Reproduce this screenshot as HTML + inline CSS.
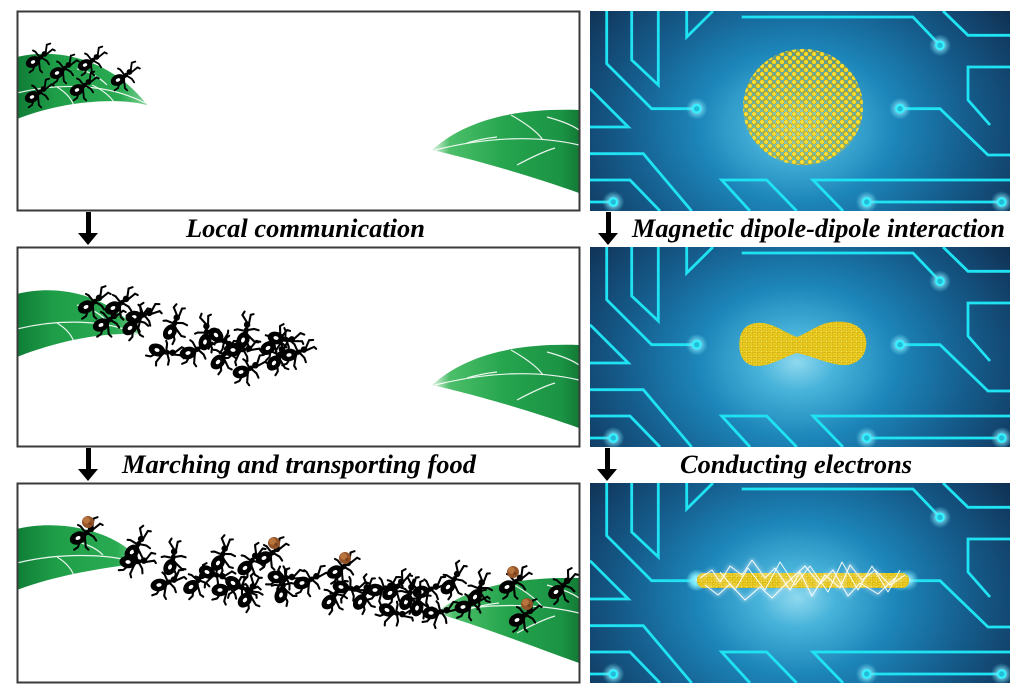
<!DOCTYPE html>
<html><head><meta charset="utf-8"><style>
html,body{margin:0;padding:0;background:#fff;}
svg{display:block;}
text{font-family:"Liberation Serif",serif;font-weight:bold;font-style:italic;font-size:26px;fill:#000;}
</style></head><body>
<svg xmlns="http://www.w3.org/2000/svg" width="1024" height="698" viewBox="0 0 1024 698">
<defs>
  <radialGradient id="bg" cx="207" cy="115" r="210" gradientUnits="userSpaceOnUse" gradientTransform="translate(207,115) scale(1.3,1) translate(-207,-115)">
    <stop offset="0" stop-color="#8fd9ef"/>
    <stop offset="0.14" stop-color="#48b3da"/>
    <stop offset="0.36" stop-color="#1d86ba"/>
    <stop offset="0.62" stop-color="#155e8e"/>
    <stop offset="0.85" stop-color="#123f67"/>
    <stop offset="1" stop-color="#0e2946"/>
  </radialGradient>
  <radialGradient id="halo">
    <stop offset="0" stop-color="#c8faff" stop-opacity="1"/>
    <stop offset="0.5" stop-color="#86e8f8" stop-opacity="0.6"/>
    <stop offset="1" stop-color="#5fd6ef" stop-opacity="0"/>
  </radialGradient>
  <linearGradient id="leafL" x1="0" y1="0" x2="1" y2="0">
    <stop offset="0" stop-color="#0f7d36"/>
    <stop offset="0.3" stop-color="#1f9e48"/>
    <stop offset="0.8" stop-color="#2aab52"/>
    <stop offset="1" stop-color="#7fd294"/>
  </linearGradient>
  <linearGradient id="leafR" x1="0" y1="0" x2="1" y2="0">
    <stop offset="0" stop-color="#e0f4e4"/>
    <stop offset="0.12" stop-color="#4cbf6a"/>
    <stop offset="0.5" stop-color="#25a44d"/>
    <stop offset="0.88" stop-color="#1b9344"/>
    <stop offset="1" stop-color="#127a36"/>
  </linearGradient>
  <pattern id="dots" width="8" height="8" patternUnits="userSpaceOnUse">
    <circle cx="2" cy="2" r="2.3" fill="#f9e13a" stroke="#c39b00" stroke-width="0.6"/>
    <circle cx="6" cy="6" r="2.3" fill="#f6dc30" stroke="#c39b00" stroke-width="0.6"/>
  </pattern>
  <pattern id="dots2" width="5" height="5" patternUnits="userSpaceOnUse">
    <circle cx="1.5" cy="1.5" r="1.4" fill="#fbe84a" stroke="#b38c00" stroke-width="0.4"/>
    <circle cx="4" cy="3.8" r="1.3" fill="#f3d52a" stroke="#b38c00" stroke-width="0.4"/>
  </pattern>
  <clipPath id="cp"><rect x="0" y="0" width="420" height="200"/></clipPath>
  <clipPath id="lp1"><rect x="18" y="12" width="561" height="198"/></clipPath>
  <clipPath id="lp2"><rect x="18" y="248" width="561" height="198"/></clipPath>
  <clipPath id="lp3"><rect x="18" y="484" width="561" height="198"/></clipPath>
  <filter id="blur" x="-50%" y="-50%" width="200%" height="200%"><feGaussianBlur stdDeviation="2"/></filter>

  <g id="circ">
    <g clip-path="url(#cp)">
      <rect x="0" y="0" width="420" height="200" fill="url(#bg)"/>
      <g fill="none" stroke="#1fe3f2" stroke-width="2.8" stroke-linejoin="miter">
        <path d="M16.7,0 V52.7 L61.7,97.7 H106.7"/>
        <path d="M41.7,0 V49 L68.3,74 V0"/>
        <path d="M96.7,0 V26 L123,0"/>
        <path d="M151.7,6 H323 L350,34.3"/>
        <path d="M353,0 L378,24.3 H420"/>
        <path d="M420,56 H378 V89 L400,114"/>
        <path d="M310,97.7 H350 L398,144 H420"/>
        <path d="M0,77.7 L38.3,116 H0"/>
        <path d="M0,142.7 H53.3 L101.7,200"/>
        <path d="M0,169 H40 L70,200"/>
        <path d="M0,191 H23.3"/>
        <path d="M160,200 L131.7,169 H176.7 L206.7,200"/>
        <path d="M253,200 L223,169 H420"/>
        <path d="M276.7,191 H411.7"/>
      </g>
      <g>
        <circle cx="106.7" cy="97.7" r="11" fill="url(#halo)"/>
        <circle cx="310" cy="97.7" r="11" fill="url(#halo)"/>
        <circle cx="350" cy="34.3" r="11" fill="url(#halo)"/>
        <circle cx="23.3" cy="191" r="11" fill="url(#halo)"/>
        <circle cx="276.7" cy="191" r="11" fill="url(#halo)"/>
        <circle cx="411.7" cy="191" r="11" fill="url(#halo)"/>
      </g>
      <g fill="#22bcd6" stroke="#35f0ff" stroke-width="2.2">
        <circle cx="106.7" cy="97.7" r="3.8"/>
        <circle cx="310" cy="97.7" r="3.8"/>
        <circle cx="350" cy="34.3" r="3.8"/>
        <circle cx="23.3" cy="191" r="3.8"/>
        <circle cx="276.7" cy="191" r="3.8"/>
        <circle cx="411.7" cy="191" r="3.8"/>
      </g>
    </g>
  </g>

  <g id="ant0">
    <path d="M3,-2 L0,7 L-3,9 M5,-3 L6,7 L8,9 M6,-4 L2,-9 L0,-10 M7,-4 L12,-1 L14,2 M11,-8 L12,-15 L15,-16 M12,-7 L17,-11 L19,-10" stroke="#000" stroke-width="1.6" fill="none" stroke-linecap="round"/>
    <ellipse cx="0" cy="0" rx="6.5" ry="4.8" transform="rotate(-25)" fill="#000"/>
    <ellipse cx="0" cy="0" rx="2" ry="1.4" fill="#fff" transform="rotate(-25)"/>
    <ellipse cx="6.5" cy="-4" rx="2.8" ry="1.9" transform="rotate(-40 6.5 -4)" fill="#000"/>
    <circle cx="10" cy="-7" r="2.5" fill="#000"/>
  </g>
  <g id="ant"><use href="#ant0" transform="scale(1.15)"/></g>
  <g id="ant2"><use href="#ant0" transform="scale(1.3)"/></g>
  <g id="food">
    <circle r="6" fill="#94542a"/>
    <circle cx="-1.5" cy="-1.6" r="3.4" fill="#b8753e"/>
    <circle cx="2" cy="1.5" r="1.6" fill="#7a411c"/>
  </g>
</defs>

<!-- LEFT PANELS -->
<!-- Panel 1 -->
<g clip-path="url(#lp1)">
<g transform="translate(17,11)">
  <path d="M0,46 C40,36 95,48 130,94 C100,86 45,90 0,108 Z" fill="url(#leafL)"/>
  <g fill="none" stroke="#fff" stroke-width="1.2" opacity="0.9">
    <path d="M0,82 C40,72 90,72 128,92"/>
    <path d="M40,76 C50,82 56,90 58,98"/>
    <path d="M75,74 C88,80 96,88 100,96"/>
    <path d="M60,58 C72,60 82,66 90,74"/>
  </g>
  <path d="M415,139 C450,108 500,97 562,99 L562,182 C515,165 455,148 415,139 Z" fill="url(#leafR)"/>
  <g fill="none" stroke="#fff" stroke-width="1.2" opacity="0.9">
    <path d="M418,139 C470,126 520,124 562,134"/>
    <path d="M494,104 C508,112 520,120 526,129"/>
    <path d="M530,106 C545,110 555,114 562,119"/>
    <path d="M500,154 C515,146 528,140 538,137"/>
    <path d="M450,132 C460,129 470,127 480,126"/>
  </g>
</g>
<g>
  <use href="#ant" transform="translate(33,62)"/>
  <use href="#ant" transform="translate(57,73)"/>
  <use href="#ant" transform="translate(85,65)"/>
  <use href="#ant" transform="translate(118,80)"/>
  <use href="#ant" transform="translate(32,97)"/>
  <use href="#ant" transform="translate(77,90)"/>
</g>
</g>
<rect x="17.5" y="11.5" width="562" height="199" fill="none" stroke="#3a3a3a" stroke-width="2"/>

<!-- Panel 2 -->
<g clip-path="url(#lp2)">
<g transform="translate(17,247)">
  <path d="M0,47 C40,37 92,46 124,88 C95,84 45,92 0,110 Z" fill="url(#leafL)"/>
  <g fill="none" stroke="#fff" stroke-width="1.2" opacity="0.9">
    <path d="M0,82 C40,72 90,72 122,88"/>
    <path d="M40,76 C50,82 56,90 58,98"/>
    <path d="M60,58 C72,60 82,66 90,74"/>
  </g>
  <path d="M415,138 C450,107 500,96 562,98 L562,181 C515,164 455,147 415,138 Z" fill="url(#leafR)"/>
  <g fill="none" stroke="#fff" stroke-width="1.2" opacity="0.9">
    <path d="M418,138 C470,125 520,123 562,133"/>
    <path d="M494,103 C508,111 520,119 526,128"/>
    <path d="M530,105 C545,109 555,113 562,118"/>
    <path d="M500,153 C515,145 528,139 538,136"/>
    <path d="M450,131 C460,128 470,126 480,125"/>
  </g>
</g>
<g>
  <use href="#ant2" transform="translate(86,307)"/>
  <use href="#ant2" transform="translate(113,308)"/>
  <use href="#ant2" transform="translate(134,317) rotate(20)"/>
  <use href="#ant2" transform="translate(101,325)"/>
  <use href="#ant2" transform="translate(130,328) rotate(-15)"/>
  <use href="#ant2" transform="translate(157,350) rotate(45)"/>
  <use href="#ant2" transform="translate(170,332) rotate(-30)"/>
  <use href="#ant2" transform="translate(188,353) rotate(10)"/>
  <use href="#ant2" transform="translate(205,342) rotate(-50)"/>
  <use href="#ant2" transform="translate(216,335) rotate(70)"/>
  <use href="#ant2" transform="translate(218,362) rotate(-20)"/>
  <use href="#ant2" transform="translate(233,350) rotate(30)"/>
  <use href="#ant2" transform="translate(243,340) rotate(-40)"/>
  <use href="#ant2" transform="translate(241,372) rotate(10)"/>
  <use href="#ant2" transform="translate(268,348) rotate(-10)"/>
  <use href="#ant2" transform="translate(276,338) rotate(40)"/>
  <use href="#ant2" transform="translate(274,363) rotate(-25)"/>
  <use href="#ant2" transform="translate(289,355) rotate(15)"/>
</g>
</g>
<rect x="17.5" y="247.5" width="562" height="199" fill="none" stroke="#3a3a3a" stroke-width="2"/>

<!-- Panel 3 -->
<g clip-path="url(#lp3)">
<g transform="translate(17,483)">
  <path d="M0,46 C40,36 100,46 125,80 C95,84 45,90 0,107 Z" fill="url(#leafL)"/>
  <g fill="none" stroke="#fff" stroke-width="1.2" opacity="0.9">
    <path d="M0,80 C40,70 90,70 122,80"/>
    <path d="M40,74 C50,80 56,88 58,96"/>
    <path d="M55,58 C68,60 78,64 86,72"/>
  </g>
  <path d="M419,130 C450,104 500,94 562,95 L562,180 C515,163 460,142 419,130 Z" fill="url(#leafR)"/>
  <g fill="none" stroke="#fff" stroke-width="1.2" opacity="0.9">
    <path d="M422,130 C470,120 520,120 562,130"/>
    <path d="M494,100 C508,108 520,116 526,125"/>
    <path d="M530,102 C545,106 555,110 562,115"/>
    <path d="M500,150 C515,142 528,136 538,133"/>
    <path d="M452,126 C462,123 472,121 482,120"/>
  </g>
</g>
<g>
  <use href="#ant2" transform="translate(78,538)"/>
  <use href="#ant2" transform="translate(132,552) rotate(-20)"/>
  <use href="#ant2" transform="translate(128,562) rotate(30)"/>
  <use href="#ant2" transform="translate(170,567) rotate(-40)"/>
  <use href="#ant2" transform="translate(159,585) rotate(15)"/>
  <use href="#ant2" transform="translate(191,587) rotate(-10)"/>
  <use href="#ant2" transform="translate(207,572) rotate(50)"/>
  <use href="#ant2" transform="translate(218,563) rotate(-30)"/>
  <use href="#ant2" transform="translate(220,590) rotate(20)"/>
  <use href="#ant2" transform="translate(245,568) rotate(-15)"/>
  <use href="#ant2" transform="translate(233,583) rotate(60)"/>
  <use href="#ant2" transform="translate(264,558)"/>
  <use href="#ant2" transform="translate(245,600) rotate(-25)"/>
  <use href="#ant2" transform="translate(276,577) rotate(35)"/>
  <use href="#ant2" transform="translate(281,595) rotate(-45)"/>
  <use href="#ant2" transform="translate(302,583) rotate(10)"/>
  <use href="#ant2" transform="translate(329,602) rotate(-20)"/>
  <use href="#ant2" transform="translate(335,572)"/>
  <use href="#ant2" transform="translate(341,587) rotate(40)"/>
  <use href="#ant2" transform="translate(360,602) rotate(-30)"/>
  <use href="#ant2" transform="translate(375,590) rotate(20)"/>
  <use href="#ant2" transform="translate(390,593) rotate(-10)"/>
  <use href="#ant2" transform="translate(387,610) rotate(50)"/>
  <use href="#ant2" transform="translate(406,602) rotate(-35)"/>
  <use href="#ant2" transform="translate(421,592) rotate(15)"/>
  <use href="#ant2" transform="translate(417,608) rotate(-50)"/>
  <use href="#ant2" transform="translate(431,613) rotate(25)"/>
  <use href="#ant2" transform="translate(448,587) rotate(-20)"/>
  <use href="#ant2" transform="translate(463,607) rotate(10)"/>
  <use href="#ant2" transform="translate(475,597) rotate(-30)"/>
  <use href="#ant2" transform="translate(507,587)"/>
  <use href="#ant2" transform="translate(556,592) rotate(-10)"/>
  <use href="#ant2" transform="translate(517,620)"/>
</g>
<g>
  <use href="#food" transform="translate(88,522)"/>
  <use href="#food" transform="translate(274,543)"/>
  <use href="#food" transform="translate(345,558)"/>
  <use href="#food" transform="translate(513,572)"/>
  <use href="#food" transform="translate(527,604)"/>
</g>
</g>
<rect x="17.5" y="483.5" width="562" height="199" fill="none" stroke="#3a3a3a" stroke-width="2"/>

<!-- RIGHT PANELS -->
<use href="#circ" x="590" y="11"/>
<use href="#circ" x="590" y="247"/>
<use href="#circ" x="590" y="483"/>

<!-- cluster -->
<ellipse cx="803" cy="107" rx="60" ry="58" fill="#e7c92a" opacity="0.3"/>
<ellipse cx="803" cy="107" rx="60" ry="58" fill="url(#dots)"/>

<!-- dumbbell -->
<path d="M740,338 C742,326 752,322 762,323 C775,324 785,333 797,337 C808,333 818,324 832,322 C848,320 864,325 866,340 C868,356 856,366 842,365 C828,364 812,356 797,353 C785,356 772,366 757,366 C745,366 737,356 740,338 Z" fill="#eccd1e"/>
<path d="M740,338 C742,326 752,322 762,323 C775,324 785,333 797,337 C808,333 818,324 832,322 C848,320 864,325 866,340 C868,356 856,366 842,365 C828,364 812,356 797,353 C785,356 772,366 757,366 C745,366 737,356 740,338 Z" fill="url(#dots2)"/>

<!-- rod with lightning -->
<circle cx="697" cy="580" r="11" fill="url(#halo)"/>
<circle cx="908" cy="580" r="11" fill="url(#halo)"/>
<rect x="697" y="573" width="212" height="15" rx="7" fill="#eccd1e"/>
<rect x="697" y="573" width="212" height="15" rx="7" fill="url(#dots2)"/>
<g fill="none" stroke="#ffffff" stroke-linejoin="round">
  <g stroke-width="3" opacity="0.45" filter="url(#blur)">
    <path d="M700,578 L712,570 L720,582 L730,566 L742,575 L752,560 L765,578 L775,568 L790,590 L800,572 L812,596 L825,575 L840,588 L850,565 L862,580 L875,570 L890,585 L905,575"/>
    <path d="M705,585 L718,595 L730,584 L745,600 L760,587 L772,598 L790,580 L805,566 L820,584 L833,570 L848,596 L860,583 L878,594 L895,578"/>
  </g>
  <g stroke-width="1" opacity="0.95">
    <path d="M700,578 L712,570 L720,582 L730,566 L742,575 L752,560 L765,578 L775,568 L790,590 L800,572 L812,596 L825,575 L840,588 L850,565 L862,580 L875,570 L890,585 L905,575"/>
    <path d="M705,585 L718,595 L730,584 L745,600 L760,587 L772,598 L790,580 L805,566 L820,584 L833,570 L848,596 L860,583 L878,594 L895,578"/>
    <path d="M720,572 L735,590 L748,568 L765,590 L780,562 L795,585 L810,566 L828,592 L842,562 L858,590 L872,566 L888,592 L900,570"/>
  </g>
</g>

<!-- ARROWS -->
<g fill="#000">
  <rect x="86" y="212" width="5" height="22"/><polygon points="78,233 98,233 88,245"/>
  <rect x="86" y="448" width="5" height="22"/><polygon points="78,469 98,469 88,481"/>
  <rect x="606" y="212" width="5" height="22"/><polygon points="598,233 618,233 608,245"/>
  <rect x="605" y="448" width="5" height="22"/><polygon points="597,469 617,469 607,481"/>
</g>

<!-- LABELS -->
<text x="186" y="237" textLength="239" lengthAdjust="spacingAndGlyphs">Local communication</text>
<text x="632" y="237" textLength="373" lengthAdjust="spacingAndGlyphs">Magnetic dipole-dipole interaction</text>
<text x="122" y="473" textLength="354" lengthAdjust="spacingAndGlyphs">Marching and transporting food</text>
<text x="680" y="473" textLength="232" lengthAdjust="spacingAndGlyphs">Conducting electrons</text>
</svg>
</body></html>
